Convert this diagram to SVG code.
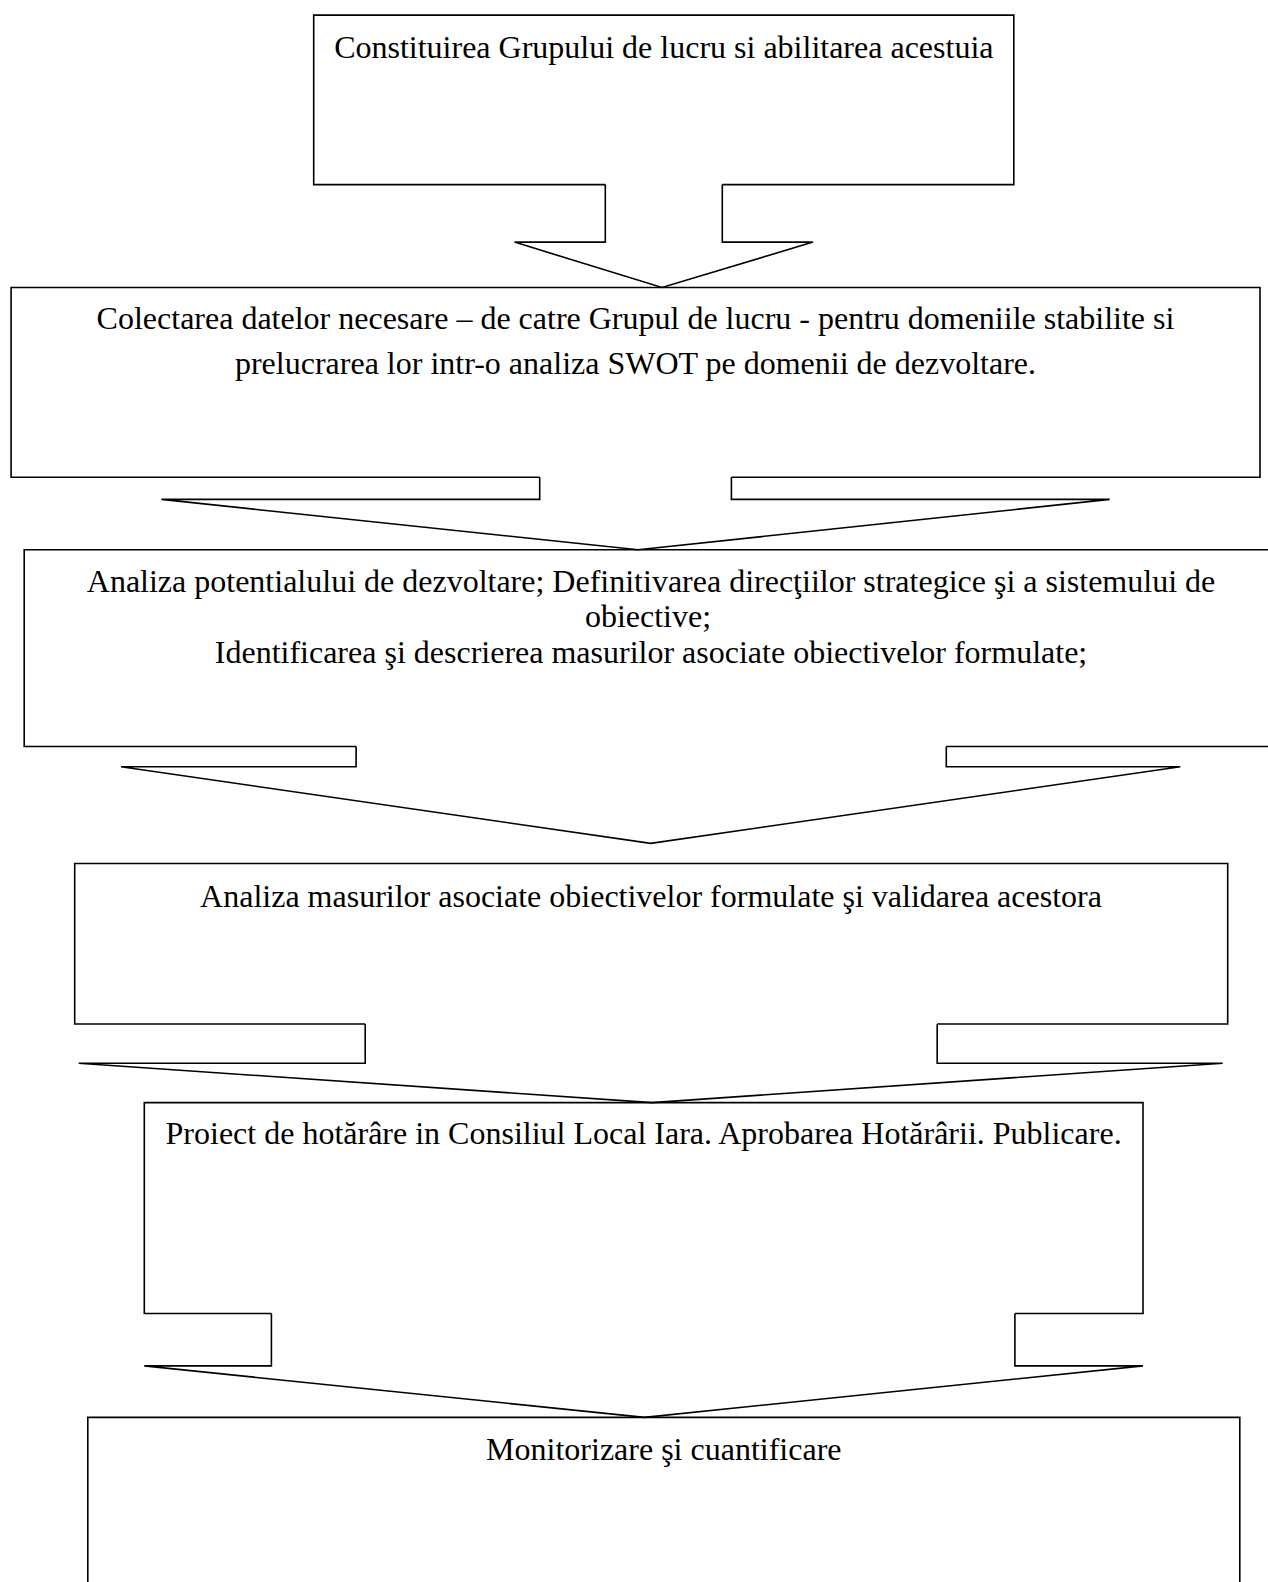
<svg xmlns="http://www.w3.org/2000/svg" width="1268" height="1582" viewBox="0 0 1268 1582">
<style>
.ol{fill:none;stroke:#000;stroke-width:1.6;stroke-linejoin:miter}
.t{font-family:"Liberation Serif","Times New Roman",serif;font-size:32px;fill:#000;text-anchor:middle}
</style>
<rect x="0" y="0" width="1268" height="1582" fill="#fff"/>
<g id="node1">
<path class="ol" d="M605.3,184.6 H313.7 V15.1 H1013.8 V184.6 H722.3"/>
<text class="t" x="663.8" y="58">Constituirea Grupului de lucru si abilitarea acestuia</text>
</g>
<g id="node2">
<path class="ol" d="M539.7,477.2 H11.1 V287.5 H1260 V477.2 H731.4"/>
<text class="t" x="635.5" y="329">Colectarea datelor necesare – de catre Grupul de lucru - pentru domeniile stabilite si</text>
<text class="t" x="635.5" y="374">prelucrarea lor intr-o analiza SWOT pe domenii de dezvoltare.</text>
</g>
<g id="node3">
<path class="ol" d="M356.1,746.5 H24.2 V549.8 H1280 M1280,746.5 H946.3"/>
<text class="t" x="651" y="592">Analiza potentialului de dezvoltare; Definitivarea direcţiilor strategice şi a sistemului de</text>
<text class="t" x="648" y="627">obiective;</text>
<text class="t" x="651" y="663">Identificarea şi descrierea masurilor asociate obiectivelor formulate;</text>
</g>
<g id="node4">
<path class="ol" d="M365.2,1024 H74.7 V863.5 H1227.7 V1024 H937.2"/>
<text class="t" x="651" y="907">Analiza masurilor asociate obiectivelor formulate şi validarea acestora</text>
</g>
<g id="node5">
<path class="ol" d="M271.4,1313.5 H144.3 V1102.6 H1143 V1313.5 H1014.9"/>
<text class="t" x="643.6" y="1144">Proiect de hotărâre in Consiliul Local Iara. Aprobarea Hotărârii. Publicare.</text>
</g>
<g id="node6">
<path class="ol" d="M87.8,1600 V1417.4 H1239.8 V1600"/>
<text class="t" x="663.8" y="1460">Monitorizare şi cuantificare</text>
</g>
<g id="connectors">
<path class="ol" d="M722.3,184.6 V242.1 H813.1 L662,287.5 L514.5,242.1 H605.3 V184.6"/>
<path class="ol" d="M731.4,477.2 V499.4 H1109.7 L638,549.8 L161.4,499.4 H539.7 V477.2"/>
<path class="ol" d="M946.3,746.5 V766.7 H1180.3 L650.7,843.4 L121.1,766.7 H356.1 V746.5"/>
<path class="ol" d="M937.2,1024 V1063.3 H1222.7 L652,1102.6 L78.7,1063.3 H365.2 V1024"/>
<path class="ol" d="M1014.9,1313.5 V1365.9 H1143 L644.5,1417.4 L144.3,1365.9 H271.4 V1313.5"/>
</g>
</svg>
